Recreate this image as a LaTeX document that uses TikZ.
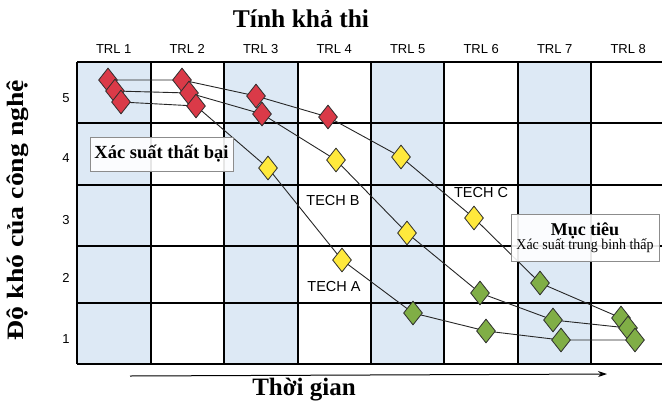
\documentclass[tikz,border=0pt]{standalone}
\usepackage{fontspec}
\setmainfont{Liberation Serif}
\setsansfont{Liberation Sans}
\usetikzlibrary{shapes.geometric,arrows.meta}
\pgfdeclarelayer{bg}
\pgfdeclarelayer{lines}
\pgfsetlayers{bg,lines,main}
\definecolor{colshade}{RGB}{221,233,245}
\definecolor{dred}{RGB}{218,58,72}
\definecolor{dyel}{RGB}{255,233,60}
\definecolor{dgrn}{RGB}{128,174,70}
\definecolor{edgec}{RGB}{45,45,45}
\tikzset{
  dia/.style={diamond, draw=edgec, line width=0.8pt, inner sep=0pt, minimum width=19pt, minimum height=24pt},
  rd/.style={dia, fill=dred},
  yd/.style={dia, fill=dyel},
  gd/.style={dia, fill=dgrn},
  trl/.style={font=\sffamily\fontsize{13}{15}\selectfont},
  rown/.style={font=\sffamily\fontsize{13}{15}\selectfont},
  tech/.style={font=\sffamily\fontsize{14.5}{16}\selectfont, inner sep=1pt},
  track/.style={draw=black!85, line width=0.9pt},
  gridl/.style={draw=black, line width=1.2pt},
  infobox/.style={draw=black!45, fill=white, fill opacity=0.9, text opacity=1, line width=0.6pt}
}
\begin{document}
\begin{tikzpicture}[x=1pt,y=-1pt]
\useasboundingbox (0,0) rectangle (662,408);
% grid
\begin{pgfonlayer}{bg}
  \foreach \a/\b in {77/151,224/298,371/444,518/591}
    \fill[colshade] (\a,62) rectangle (\b,364);
  \foreach \y in {62,123,185,246,303,364}
    \draw[gridl] (77,\y) -- (662,\y);
  \foreach \x in {77,151,224,298,371,444,518,591}
    \draw[gridl] (\x,62) -- (\x,364);
\end{pgfonlayer}
% headers
\node (title) at (301,19) {\fontsize{25.5}{30}\selectfont\bfseries Tính khả thi};
\foreach \k in {1,...,8}
  \node[trl] (trl\k) at ({77+73.5*(\k-0.5)},49) {TRL \k};
\node[rown] (r5) at (66,98) {5};
\node[rown] (r4) at (66,158) {4};
\node[rown] (r3) at (66,220) {3};
\node[rown] (r2) at (66,278) {2};
\node[rown] (r1) at (66,339) {1};
\node[rotate=90] (ylab) at (18,210) {\fontsize{23.5}{28}\selectfont\bfseries\scalebox{1.18}[1]{Độ khó của công nghệ}};
\node (xlab) at (304,390) {\fontsize{25}{30}\selectfont\bfseries Thời gian};
\coordinate (ts) at (130,376);
\coordinate (te) at (607,374);
\draw[line width=1pt, -{Stealth[length=9pt,width=6pt]}] (ts) -- (te);
% boxes
\node[infobox, minimum width=143pt, minimum height=34pt] (fail) at (161.5,154) {\fontsize{18.5}{20}\selectfont\bfseries Xác suất thất bại};
\node[infobox, minimum width=148pt, minimum height=47pt, align=center, inner sep=2pt] (goal) at (585,237.5)
  {{\fontsize{18}{19}\selectfont\bfseries Mục tiêu}\\[-1pt]{\fontsize{15}{16}\selectfont\scalebox{0.93}[1]{Xác suất trung binh thấp}}};
% tech labels
\node[tech] (tb) at (333,201) {TECH B};
\node[tech] (ta) at (334,287) {TECH A};
\node[tech] (tc) at (481,193) {TECH C};
% diamonds
\node[rd] (C1) at (108,80) {};
\node[rd] (B1) at (115,91) {};
\node[rd] (A1) at (121,102) {};
\node[rd] (C2) at (182,80) {};
\node[rd] (B2) at (189,93) {};
\node[rd] (A2) at (196,106) {};
\node[rd] (C3) at (256,96) {};
\node[rd] (B3) at (262,114) {};
\node[rd] (C4) at (328,117) {};
\node[yd] (A3) at (268,168) {};
\node[yd] (B4) at (336,160) {};
\node[yd] (C5) at (401,157) {};
\node[yd] (A4) at (342,260) {};
\node[yd] (B5) at (407,233) {};
\node[yd] (C6) at (474,218) {};
\node[gd] (A5) at (413,313) {};
\node[gd] (B6) at (480,293) {};
\node[gd] (C7) at (540,283) {};
\node[gd] (A6) at (486,331) {};
\node[gd] (B7) at (553,320) {};
\node[gd] (A7) at (561,340) {};
\node[gd] (C8) at (621,318) {};
\node[gd] (B8) at (628,328) {};
\node[gd] (A8) at (635,340) {};
% tracks
\begin{pgfonlayer}{lines}
  \draw[track] (A1.center) -- (A2.center) -- (A3.center) -- (A4.center) -- (A5.center) -- (A6.center) -- (A7.center) -- (A8.center);
  \draw[track] (B1.center) -- (B2.center) -- (B3.center) -- (B4.center) -- (B5.center) -- (B6.center) -- (B7.center) -- (B8.center);
  \draw[track] (C1.center) -- (C2.center) -- (C3.center) -- (C4.center) -- (C5.center) -- (C6.center) -- (C7.center) -- (C8.center);
\end{pgfonlayer}
\end{tikzpicture}
\end{document}
